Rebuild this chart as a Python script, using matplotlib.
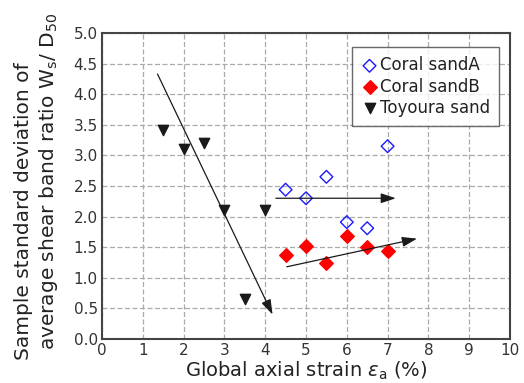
import matplotlib
matplotlib.use("Agg")
import matplotlib.pyplot as plt

plt.rcParams['font.family'] = ['DejaVu Sans']
plt.rcParams['mathtext.fontset'] = 'dejavusans'

# strain (%) vs. std of shear band ratio
strain_a = [4.5, 5.0, 5.5, 6.0, 6.5, 7.0]
coral_a = [2.44, 2.30, 2.65, 1.91, 1.81, 3.15]

strain_b = [4.5, 5.0, 5.5, 6.0, 6.5, 7.0]
coral_b = [1.37, 1.52, 1.25, 1.68, 1.51, 1.43]

strain_t = [1.5, 2.0, 2.5, 3.0, 3.5, 4.0]
toyoura = [3.41, 3.10, 3.21, 2.11, 0.66, 2.11]

# trend arrows: (x0, y0) -> (x1, y1)
trend_arrows = [
    ((1.36, 4.33), (4.18, 0.40)),
    ((4.26, 2.30), (7.20, 2.30)),
    ((4.53, 1.18), (7.72, 1.64)),
]

xticks = list(range(0, 11))
yticks = [0.0, 0.5, 1.0, 1.5, 2.0, 2.5, 3.0, 3.5, 4.0, 4.5, 5.0]

fig = plt.figure(figsize=(5.24, 3.83), dpi=100)
ax = fig.add_axes([102 / 524, 1 - 339 / 383, 408 / 524, 306 / 383])

ax.scatter(strain_a, coral_a, marker='D', s=42, facecolors='none',
           edgecolors='#1a1aff', linewidths=1.0, label='Coral sandA', zorder=3)
ax.scatter(strain_b, coral_b, marker='D', s=48, color='#ff0000',
           label='Coral sandB', zorder=3)
ax.scatter(strain_t, toyoura, marker='v', s=55, color='#1a1a1a',
           label='Toyoura sand', zorder=3)

for (x0, y0), (x1, y1) in trend_arrows:
    ax.annotate('', xy=(x1, y1), xytext=(x0, y0),
                arrowprops=dict(arrowstyle='-|>,head_length=0.9,head_width=0.3',
                                color='#1a1a1a', lw=0.9, shrinkA=0, shrinkB=0))

ax.set_xlim(0, 10)
ax.set_ylim(0, 5)
ax.set_xticks(xticks)
ax.set_yticks(yticks)
ax.set_yticklabels(['%.1f' % v for v in yticks])
ax.tick_params(length=0, labelsize=11, colors='#333333', pad=3)
ax.grid(True, linestyle=(0, (4, 2)), color='#aaaaaa', linewidth=0.9)
ax.set_axisbelow(True)
for sp in ax.spines.values():
    sp.set_color('#444444')
    sp.set_linewidth(1.5)

fig.text(306 / 524, 1 - 371 / 383, r'Global axial strain $\it{\varepsilon}_{\rm{a}}$ (%)',
         fontsize=14, color='#222222', ha='center', va='center')
fig.text(24 / 524, 1 - 211 / 383, 'Sample standard deviation of',
         fontsize=14.5, color='#222222', rotation=90, ha='center', va='center')
fig.text(49 / 524, 1 - 181 / 383,
         r'average shear band ratio W$_{\rm{s}}$/ D$_{\rm{50}}$',
         fontsize=14.5, color='#222222', rotation=90, ha='center', va='center')

leg = ax.legend(loc='upper left', bbox_to_anchor=(352 / 524, 1 - 47 / 383),
                bbox_transform=fig.transFigure, fontsize=12,
                frameon=True, fancybox=False, edgecolor='#444444',
                handletextpad=0.1, handlelength=1.0, borderpad=0.55,
                borderaxespad=0, labelspacing=0.2)
leg.get_frame().set_linewidth(1.0)
for t in leg.get_texts():
    t.set_color('#222222')

fig.savefig('out.png', dpi=100)
